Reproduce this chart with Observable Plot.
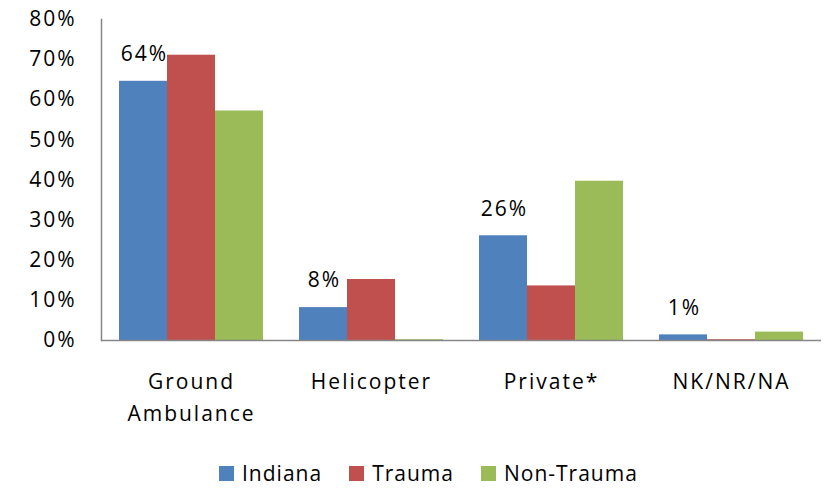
<!DOCTYPE html>
<html>
<head>
<meta charset="utf-8">
<script src="https://cdn.jsdelivr.net/npm/d3@7"></script>
<script src="https://cdn.jsdelivr.net/npm/@observablehq/plot@0.6"></script>
<style>
  html, body { margin: 0; padding: 0; background: #fff; }
  body { width: 827px; height: 489px; overflow: hidden; font-family: "Open Sans", sans-serif; }
  #chart svg text { letter-spacing: 2px; }
  #legend { display: flex; justify-content: flex-start; align-items: center; height: 44px; padding-left: 219px; padding-top: 12px; box-sizing: border-box; font-size: 21px; color: #000; letter-spacing: 1px; }
  #legend .item { display: flex; align-items: center; margin-right: 27px; }
  #legend .sw { width: 15px; height: 15px; margin-right: 8px; }
</style>
</head>
<body>
<div id="chart"></div>
<div id="legend"></div>
<script>
const categories = ["Ground Ambulance", "Helicopter", "Private*", "NK/NR/NA"];
const categoryLabels = ["Ground\nAmbulance", "Helicopter", "Private*", "NK/NR/NA"];
const series = ["Indiana", "Trauma", "Non-Trauma"];
const colors = ["#4F81BD", "#C0504D", "#9BBB59"];
const indiana = [0.646, 0.082, 0.261, 0.014];
const trauma = [0.711, 0.152, 0.136, 0.002];
const nonTrauma = [0.572, 0.002, 0.397, 0.021];
const indianaLabels = ["64%", "8%", "26%", "1%"];
const yTicks = [0, 0.1, 0.2, 0.3, 0.4, 0.5, 0.6, 0.7, 0.8];

const seriesValues = [indiana, trauma, nonTrauma];
const rows = [];
categories.forEach((c, i) => {
  series.forEach((s, j) => rows.push({category: c, series: s, value: seriesValues[j][i]}));
});
const labelRows = categories.map((c, i) => ({category: c, series: series[0], value: indiana[i], label: indianaLabels[i]}));

const chart = Plot.plot({
  width: 827,
  height: 445,
  marginLeft: 99,
  marginRight: 5,
  marginTop: 19,
  marginBottom: 105,
  style: {fontFamily: "'Open Sans', sans-serif", fontSize: "21px", color: "#000", background: "#fff"},
  fx: {domain: categories, padding: 0, label: null, axis: null},
  x: {domain: series, paddingInner: 0, paddingOuter: 0.375, axis: null},
  y: {domain: [0, 0.8], axis: null},
  color: {domain: series, range: colors},
  marks: [
    Plot.barY(rows, {fx: "category", x: "series", y: "value", fill: "series"}),
    Plot.ruleY([0], {stroke: "#868686", strokeWidth: 1.5}),
    Plot.frame({anchor: "left", facetAnchor: "left", stroke: "#868686", strokeWidth: 1.5}),
    Plot.axisY({ticks: yTicks, tickFormat: d3.format(".0%"), tickSize: 0, tickPadding: 25, fontSize: 21, label: null}),
    Plot.axisFx({anchor: "bottom", tickSize: 0, tickPadding: 25, fontSize: 21, lineHeight: 1.55,
      tickFormat: d => categoryLabels[categories.indexOf(d)], label: null}),
    Plot.text(labelRows, {fx: "category", x: "series", y: "value", text: "label", dy: -27, dx: 1, fontSize: 21, fill: "#000"})
  ]
});
document.getElementById("chart").appendChild(chart);

const legend = document.getElementById("legend");
series.forEach((s, i) => {
  const item = document.createElement("div");
  item.className = "item";
  const sw = document.createElement("span");
  sw.className = "sw";
  sw.style.background = colors[i];
  const t = document.createElement("span");
  t.textContent = s;
  item.appendChild(sw);
  item.appendChild(t);
  legend.appendChild(item);
});
</script>
</body>
</html>
